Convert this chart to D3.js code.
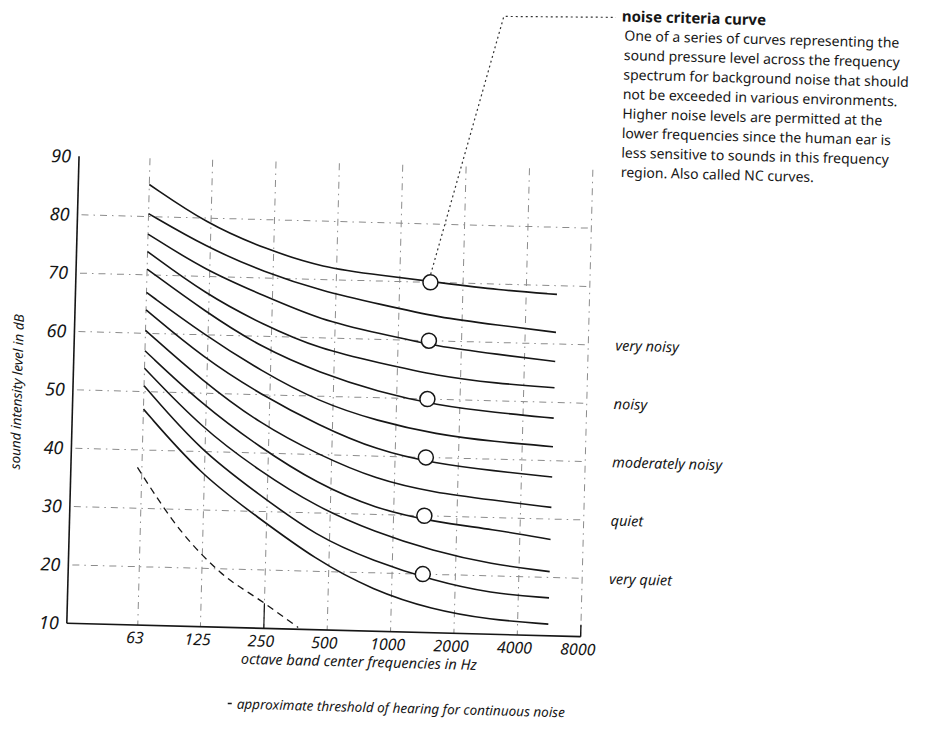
<!DOCTYPE html>
<html>
<head>
<meta charset="utf-8">
<script src="https://cdn.jsdelivr.net/npm/d3@7/dist/d3.min.js"></script>
<style>
  body { margin: 0; background: #fff; }
  svg { display: block; }
</style>
</head>
<body>
<svg width="925" height="734"></svg>
<script>
// octave bands and level ticks
var bands = [63, 125, 250, 500, 1000, 2000, 4000, 8000];
var dbTicks = [10, 20, 30, 40, 50, 60, 70, 80, 90];

// NC curves (the hand drawn curves are a bit squeezed
// so the sample points don't sit exactly on the band lines)
var curveHz = [63, 120, 227, 431, 818, 1553, 2950, 5600];
var nc70 = [85.5, 79, 75, 72, 71, 70, 69, 68.5];
var nc65 = [80.5, 75, 71, 68, 66, 64, 63, 62];
var nc60 = [77, 71, 67, 63, 61, 59, 58, 57];
var nc55 = [74, 67, 62, 58, 56, 54, 53, 52.5];
var nc50 = [71, 64, 58, 54, 51, 49, 48, 47.3];
var nc45 = [67, 60, 54, 49, 46, 44, 43, 42.4];
var nc40 = [64, 56, 50, 45, 41, 39, 38, 37.2];
var nc35 = [60.5, 52, 45, 40, 36, 34, 33, 32];
var nc30 = [57, 48, 41, 35, 31, 29, 28, 26.5];
var nc25 = [54, 44, 37, 31, 27, 24, 22, 21];
var nc20 = [51, 40, 33, 26, 22, 19, 17, 16.5];
var nc15 = [47, 36, 29, 22, 17, 14, 12.5, 12];
var curves = [nc70, nc65, nc60, nc55, nc50, nc45, nc40, nc35, nc30, nc25, nc20, nc15];

// rating circles
var circleHz = 1400;
var circleDb = [70, 60, 50, 40, 30, 20];

// room labels on the right
var zoneNames = ["very noisy", "noisy", "moderately noisy", "quiet", "very quiet"];
var zoneDb = [60, 50, 40, 30, 20];

// threshold of hearing (dashed)
var threshHz = [60, 100, 152, 250, 364];
var threshDb = [37, 26, 19.5, 14.3, 10.3];

var noteTitle = "noise criteria curve";
var noteLines = [
  "One of a series of curves representing the",
  "sound pressure level across the frequency",
  "spectrum for background noise that should",
  "not be exceeded in various environments.",
  "Higher noise levels are permitted at the",
  "lower frequencies since the human ear is",
  "less sensitive to sounds in this frequency",
  "region. Also called NC curves."
];

var font = "'Noto Sans', 'DejaVu Sans', sans-serif";
var ink = "#161616";

var svg = d3.select("svg");
// the scan is turned a little clockwise
var g = svg.append("g").attr("transform", "rotate(1.5,330,390)");

var x = d3.scaleLog().base(2).domain([63, 8000]).range([144, 587]);
var y = d3.scaleLinear().domain([10, 90]).range([630, 163]);
var x0 = 73;

// grid
var grid = g.append("g")
    .attr("fill", "none")
    .attr("stroke", "#8c8c8c")
    .attr("stroke-width", 1)
    .attr("stroke-dasharray", "7,5,1.5,5");

grid.selectAll(".hg")
    .data(dbTicks.slice(1, -1))
    .enter().append("line")
    .attr("class", "hg")
    .attr("x1", x0 + 4).attr("x2", x(8000))
    .attr("y1", function(d) { return y(d); })
    .attr("y2", function(d) { return y(d); });

grid.selectAll(".vg")
    .data(bands)
    .enter().append("line")
    .attr("class", "vg")
    .attr("x1", function(d) { return x(d); })
    .attr("x2", function(d) { return x(d); })
    .attr("y1", y(90))
    .attr("y2", y(10));

// axis lines
g.append("line")
    .attr("x1", x0).attr("x2", x0)
    .attr("y1", y(90)).attr("y2", y(10))
    .attr("stroke", ink).attr("stroke-width", 1.6);
g.append("line")
    .attr("x1", x0).attr("x2", x(8000))
    .attr("y1", y(10)).attr("y2", y(10))
    .attr("stroke", ink).attr("stroke-width", 1.6);
g.append("line")
    .attr("x1", x(8000)).attr("x2", x(8000))
    .attr("y1", y(10)).attr("y2", y(10) - 12)
    .attr("stroke", ink).attr("stroke-width", 1.4);

var yAxis = g.append("g")
    .attr("transform", "translate(" + x0 + ",0)")
    .call(d3.axisLeft(y).tickValues(dbTicks).tickSize(0).tickPadding(8));
yAxis.select(".domain").remove();
yAxis.attr("font-family", font).attr("font-size", 18)
    .selectAll("text").attr("font-style", "italic").attr("fill", ink);

var xAxis = g.append("g")
    .attr("transform", "translate(0,637)")
    .call(d3.axisBottom(x).tickValues(bands).tickSize(0).tickPadding(0)
        .tickFormat(d3.format("d")));
xAxis.select(".domain").remove();
xAxis.attr("font-family", font).attr("font-size", 16)
    .selectAll("text").attr("font-style", "italic").attr("fill", ink).attr("dx", -3);

// NC curves
var line = d3.line()
    .curve(d3.curveBasis)
    .x(function(d) { return x(d[0]); })
    .y(function(d) { return y(d[1]); });

g.selectAll(".nc")
    .data(curves)
    .enter().append("path")
    .attr("class", "nc")
    .attr("d", function(c) { return line(curveHz.map(function(f, i) { return [f, c[i]]; })); })
    .attr("fill", "none")
    .attr("stroke", ink)
    .attr("stroke-width", 1.6);

// threshold of hearing
g.append("path")
    .attr("d", d3.line().curve(d3.curveMonotoneX)
        .x(function(d) { return x(d[0]); })
        .y(function(d) { return y(d[1]); })(threshHz.map(function(f, i) { return [f, threshDb[i]]; })))
    .attr("fill", "none")
    .attr("stroke", ink)
    .attr("stroke-width", 1.3)
    .attr("stroke-dasharray", "7,5");
g.append("line")
    .attr("x1", x(threshHz[3])).attr("x2", x(threshHz[3]))
    .attr("y1", y(threshDb[3])).attr("y2", y(10))
    .attr("stroke", ink).attr("stroke-width", 1.2);

// rating circles
g.selectAll(".rc")
    .data(circleDb)
    .enter().append("circle")
    .attr("class", "rc")
    .attr("cx", x(circleHz))
    .attr("cy", function(d) { return y(d); })
    .attr("r", 7.5)
    .attr("fill", "#fff")
    .attr("stroke", ink)
    .attr("stroke-width", 1.5);

// zone labels
g.selectAll(".zone")
    .data(zoneNames)
    .enter().append("text")
    .attr("class", "zone")
    .attr("x", x(8000) + 27)
    .attr("y", function(d, i) { return y(zoneDb[i]) + 5; })
    .attr("font-family", font)
    .attr("font-size", 14.5)
    .attr("font-style", "italic")
    .attr("fill", ink)
    .text(function(d) { return d; });

// axis titles
g.append("text")
    .attr("transform", "translate(22,400) rotate(-90)")
    .attr("text-anchor", "middle")
    .attr("font-family", font).attr("font-size", 13.5).attr("font-style", "italic")
    .attr("fill", ink)
    .text("sound intensity level in dB");

g.append("text")
    .attr("x", 366).attr("y", 666)
    .attr("text-anchor", "middle")
    .attr("font-family", font).attr("font-size", 14.5).attr("font-style", "italic")
    .attr("fill", ink)
    .text("octave band center frequencies in Hz");

g.append("line")
    .attr("x1", 236).attr("x2", 240).attr("y1", 706).attr("y2", 706)
    .attr("stroke", ink).attr("stroke-width", 1.4);
g.append("text")
    .attr("x", 245).attr("y", 711)
    .attr("font-family", font).attr("font-size", 13.5).attr("font-style", "italic")
    .attr("fill", ink)
    .text("approximate threshold of hearing for continuous noise");

// note and its leader
g.append("path")
    .attr("d", d3.line()([[x(circleHz), y(circleDb[0]) - 8], [494, 12], [606, 10]]))
    .attr("fill", "none")
    .attr("stroke", "#333")
    .attr("stroke-width", 1.2)
    .attr("stroke-dasharray", "2,3");

g.append("text")
    .attr("x", 612).attr("y", 14)
    .attr("font-family", font).attr("font-size", 15).attr("font-weight", "bold")
    .attr("fill", ink)
    .text(noteTitle);

g.selectAll(".note")
    .data(noteLines)
    .enter().append("text")
    .attr("class", "note")
    .attr("x", 615)
    .attr("y", function(d, i) { return 33 + i * 19.5; })
    .attr("font-family", font).attr("font-size", 14)
    .attr("fill", ink)
    .text(function(d) { return d; });
</script>
</body>
</html>
